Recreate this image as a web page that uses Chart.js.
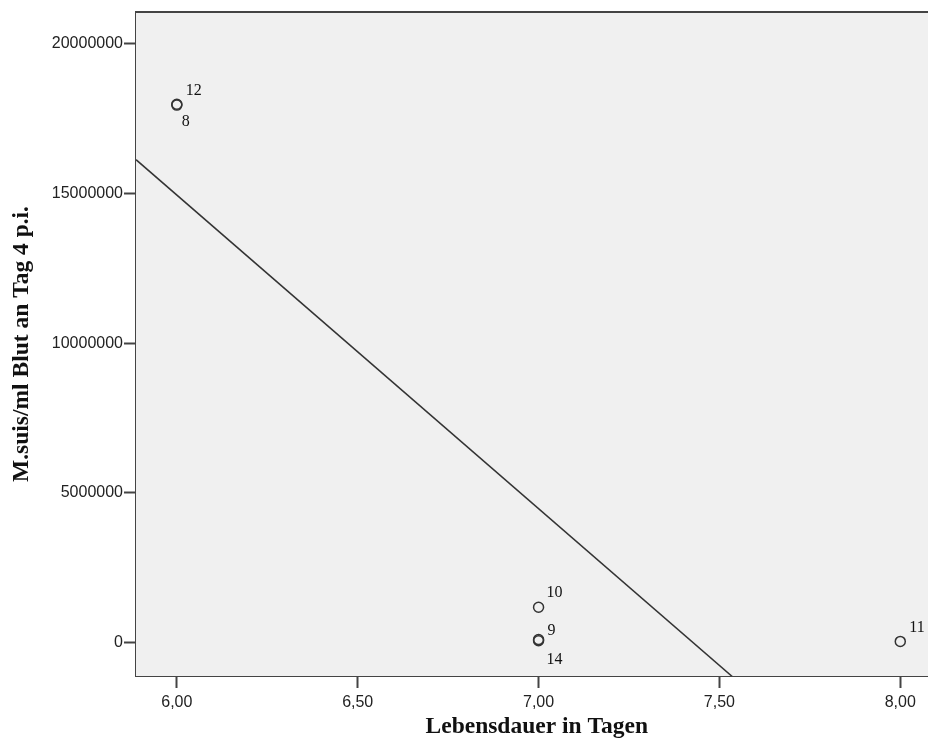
<!DOCTYPE html>
<html>
<head>
<meta charset="utf-8">
<script src="https://cdn.jsdelivr.net/npm/chart.js@4/dist/chart.umd.min.js"></script>
<style>
  html, body { margin: 0; padding: 0; background: #fff; overflow: hidden; }
  #wrap { width: 928px; height: 751px; overflow: hidden; }
  #chart { display: block; }
</style>
</head>
<body>
<div id="wrap"><canvas id="chart" width="944" height="751"></canvas></div>
<script>
// Case numbers, survival time (days) and M. suis per ml blood at day 4 p.i.
const caseIds = ['12', '8', '10', '9', '14', '11'];
const lebensdauer = [6, 6, 7, 7, 7, 8];
const msuisTag4 = [17980000, 17950000, 1180000, 100000, 60000, 40000];

// Axis ticks
const xTicks = [6, 6.5, 7, 7.5, 8];
const xTickLabels = ['6,00', '6,50', '7,00', '7,50', '8,00'];
const yTicks = [0, 5000000, 10000000, 15000000, 20000000];
const yTickLabels = ['0', '5000000', '10000000', '15000000', '20000000'];

// Axis ranges (the plot runs a little past the right edge of the picture)
const xRange = [5.8871, 8.1029];
const yRange = [-1116000, 21060000];

// Linear fit (least squares) over the points
function linearFit(xs, ys) {
    const n = xs.length;
    const mx = xs.reduce((a, b) => a + b, 0) / n;
    const my = ys.reduce((a, b) => a + b, 0) / n;
    let sxy = 0, sxx = 0;
    xs.forEach((x, i) => {
        sxy += (x - mx) * (ys[i] - my);
        sxx += (x - mx) * (x - mx);
    });
    const slope = sxy / sxx;
    return x => my + slope * (x - mx);
}
const fit = linearFit(lebensdauer, msuisTag4);
const fitLine = xRange.map(x => ({ x: x, y: fit(x) }));

const points = lebensdauer.map((x, i) => ({ x: x, y: msuisTag4[i] }));

// Label placement next to each marker (text left / baseline offset)
const labelOffsets = {
    '12': [9, -9],
    '8': [5, 21],
    '10': [8, -10],
    '9': [9, -5],
    '14': [8, 23],
    '11': [9, -9]
};

const plotFrame = {
    id: 'plotFrame',
    beforeDatasetsDraw(chart) {
        const { ctx, chartArea: a } = chart;
        ctx.save();
        ctx.fillStyle = '#f0f0f0';
        ctx.fillRect(a.left, a.top, chart.width - a.left, a.bottom - a.top);
        ctx.strokeStyle = '#444';
        ctx.lineWidth = 2;
        ctx.beginPath();
        ctx.moveTo(a.left, a.top);
        ctx.lineTo(chart.width, a.top);
        ctx.stroke();
        ctx.restore();
    }
};

const caseLabels = {
    id: 'caseLabels',
    afterDatasetsDraw(chart) {
        const { ctx } = chart;
        const meta = chart.getDatasetMeta(1);
        ctx.save();
        ctx.font = '16px "Liberation Serif", "Times New Roman", serif';
        ctx.fillStyle = '#111';
        ctx.textAlign = 'left';
        ctx.textBaseline = 'alphabetic';
        meta.data.forEach((el, i) => {
            const id = caseIds[i];
            const off = labelOffsets[id] || [8, -8];
            ctx.fillText(id, el.x + off[0], el.y + off[1]);
        });
        ctx.restore();
    }
};

const tickFont = { family: '"Liberation Sans", Arial, sans-serif', size: 16 };
const titleFont = { family: '"Liberation Serif", "Times New Roman", serif', size: 23.5, weight: 'bold' };

new Chart(document.getElementById('chart').getContext('2d'), {
    type: 'scatter',
    data: {
        datasets: [{
            type: 'line',
            data: fitLine,
            borderColor: '#333',
            borderWidth: 1.5,
            pointRadius: 0,
            fill: false,
            tension: 0
        }, {
            data: points,
            pointRadius: 5,
            pointHoverRadius: 5,
            pointBorderWidth: 1.5,
            borderColor: '#333',
            backgroundColor: 'rgba(0,0,0,0)'
        }]
    },
    options: {
        responsive: false,
        animation: false,
        layout: { padding: { top: 12, right: 0, bottom: 0, left: 0 } },
        plugins: {
            legend: { display: false },
            tooltip: { enabled: false }
        },
        scales: {
            x: {
                type: 'linear',
                min: xRange[0],
                max: xRange[1],
                afterBuildTicks: s => { s.ticks = xTicks.map(v => ({ value: v })); },
                afterFit: s => {
                    s.height = 75;
                    s.paddingLeft = 0;
                    s.paddingRight = 0;
                },
                ticks: {
                    color: '#222',
                    font: tickFont,
                    padding: 5,
                    maxRotation: 0,
                    callback: v => xTickLabels[xTicks.indexOf(v)]
                },
                grid: {
                    drawOnChartArea: false,
                    drawTicks: true,
                    tickLength: 12,
                    tickWidth: 2,
                    tickColor: '#444'
                },
                border: { display: true, color: '#444', width: 2 },
                title: {
                    display: true,
                    text: 'Lebensdauer in Tagen',
                    color: '#111',
                    font: titleFont,
                    padding: { top: 0, bottom: 10 }
                }
            },
            y: {
                type: 'linear',
                min: yRange[0],
                max: yRange[1],
                afterBuildTicks: s => { s.ticks = yTicks.map(v => ({ value: v })); },
                afterFit: s => {
                    s.width = 136;
                    s.paddingTop = 0;
                    s.paddingBottom = 0;
                },
                ticks: {
                    color: '#222',
                    font: tickFont,
                    padding: 1,
                    callback: v => yTickLabels[yTicks.indexOf(v)]
                },
                grid: {
                    drawOnChartArea: false,
                    drawTicks: true,
                    tickLength: 12,
                    tickWidth: 2,
                    tickColor: '#444'
                },
                border: { display: true, color: '#444', width: 2 },
                title: {
                    display: true,
                    text: 'M.suis/ml Blut an Tag 4 p.i.',
                    color: '#111',
                    font: titleFont,
                    padding: { top: 8, bottom: 0 }
                }
            }
        }
    },
    plugins: [plotFrame, caseLabels]
});
</script>
</body>
</html>
